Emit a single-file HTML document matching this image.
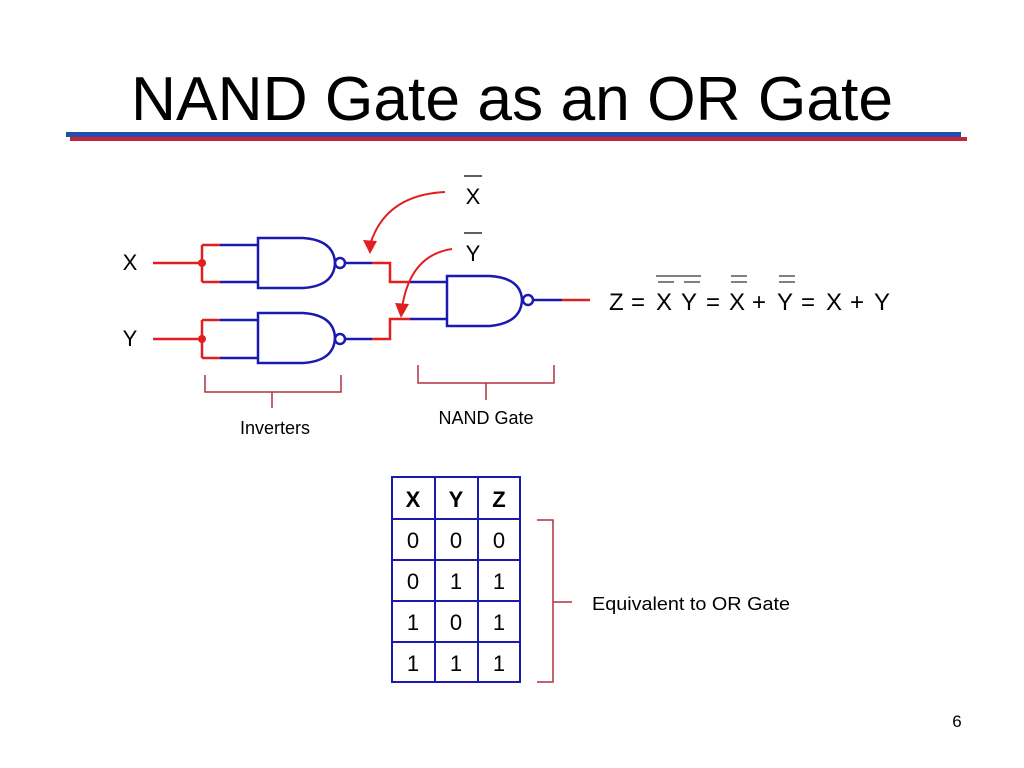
<!DOCTYPE html>
<html><head><meta charset="utf-8"><style>
html,body{margin:0;padding:0;background:#fff}
svg{display:block}
text{font-family:"Liberation Sans",Arial,sans-serif;fill:#000}
</style></head><body>
<svg width="1024" height="768" viewBox="0 0 1024 768" xmlns="http://www.w3.org/2000/svg">
<text x="512" y="120" font-size="62" text-anchor="middle" textLength="762" lengthAdjust="spacingAndGlyphs">NAND Gate as an OR Gate</text>
<rect x="66" y="132" width="895" height="5" fill="#1f4fa8"/>
<rect x="70" y="137" width="897" height="4" fill="#c0283a"/>

<g fill="none" stroke-width="2.5">
<path d="M153 263H202M202 245V282M202 245H220M202 282H220" stroke="#e02020"/>
<path d="M220 245H258M220 282H258" stroke="#1a1ab0"/>
<path d="M258 238H303Q334 240 335 263Q334 286 303 288H258Z" stroke="#1a1ab0"/>
<circle cx="340" cy="263" r="5" stroke="#1a1ab0"/>
<path d="M345 263H372" stroke="#1a1ab0"/>
<path d="M372 263H390V282H410" stroke="#e02020"/>
<path d="M410 282H447" stroke="#1a1ab0"/>
<path d="M153 339H202M202 320V358M202 320H220M202 358H220" stroke="#e02020"/>
<path d="M220 320H258M220 358H258" stroke="#1a1ab0"/>
<path d="M258 313H303Q334 315 335 338Q334 361 303 363H258Z" stroke="#1a1ab0"/>
<circle cx="340" cy="339" r="5" stroke="#1a1ab0"/>
<path d="M345 339H372" stroke="#1a1ab0"/>
<path d="M372 339H390V319H410" stroke="#e02020"/>
<path d="M410 319H447" stroke="#1a1ab0"/>
<path d="M447 276H490Q521 278 522 300Q521 323 490 326H447Z" stroke="#1a1ab0"/>
<circle cx="528" cy="300" r="5" stroke="#1a1ab0"/>
<path d="M533 300H562" stroke="#1a1ab0"/>
<path d="M562 300H590" stroke="#e02020"/>
<path d="M445 192Q385 195 370 245" stroke="#e02020" stroke-width="2"/>
<path d="M452 249Q410 255 402 308" stroke="#e02020" stroke-width="2"/>
<path d="M205 375V392H272V408M272 392H341V375" stroke="#b03040" stroke-width="1.5"/>
<path d="M418 365V383H486V400M486 383H554V365" stroke="#b03040" stroke-width="1.5"/>
<path d="M537 520H553V602H572M553 602V682H537" stroke="#b03040" stroke-width="1.5"/>
</g>
<circle cx="202" cy="263" r="4" fill="#e02020"/>
<circle cx="202" cy="339" r="4" fill="#e02020"/>
<path d="M363 240L370 254L377 241Z" fill="#e02020"/>
<path d="M395 303L401 318L409 304Z" fill="#e02020"/>

<text x="130" y="270" font-size="22" text-anchor="middle">X</text>
<text x="130" y="346" font-size="22" text-anchor="middle">Y</text>
<text x="473" y="204" font-size="22" text-anchor="middle">X</text>
<line x1="464" y1="176" x2="482" y2="176" stroke="#000" stroke-width="1.3"/>
<text x="473" y="261" font-size="22" text-anchor="middle">Y</text>
<line x1="464" y1="233" x2="482" y2="233" stroke="#000" stroke-width="1.3"/>

<text x="275" y="434" font-size="18" text-anchor="middle">Inverters</text>
<text x="486" y="424" font-size="18" text-anchor="middle">NAND Gate</text>

<g font-size="24">
<text x="609" y="310">Z</text>
<text x="631" y="310">=</text>
<text x="656" y="310">X</text>
<text x="681" y="310">Y</text>
<text x="706" y="310">=</text>
<text x="729" y="310">X</text>
<text x="752" y="310">+</text>
<text x="777" y="310">Y</text>
<text x="801" y="310">=</text>
<text x="826" y="310">X</text>
<text x="850" y="310">+</text>
<text x="874" y="310">Y</text>
</g>
<g stroke="#000" stroke-width="1">
<line x1="656" y1="276" x2="701" y2="276"/>
<line x1="658" y1="282" x2="674" y2="282"/>
<line x1="684" y1="282" x2="700" y2="282"/>
<line x1="731" y1="276" x2="747" y2="276"/>
<line x1="731" y1="282" x2="747" y2="282"/>
<line x1="779" y1="276" x2="795" y2="276"/>
<line x1="779" y1="282" x2="795" y2="282"/>
</g>

<g stroke="#1a1ab0" stroke-width="2" fill="none">
<rect x="392" y="477" width="128" height="205"/>
<path d="M435 477V682M478 477V682M392 519H520M392 560H520M392 601H520M392 642H520"/>
</g>
<g font-size="22" text-anchor="middle">
<text x="413" y="507" font-weight="bold">X</text><text x="456" y="507" font-weight="bold">Y</text><text x="499" y="507" font-weight="bold">Z</text>
<text x="413" y="548">0</text><text x="456" y="548">0</text><text x="499" y="548">0</text>
<text x="413" y="589">0</text><text x="456" y="589">1</text><text x="499" y="589">1</text>
<text x="413" y="630">1</text><text x="456" y="630">0</text><text x="499" y="630">1</text>
<text x="413" y="671">1</text><text x="456" y="671">1</text><text x="499" y="671">1</text>
</g>
<text x="592" y="610" font-size="18" textLength="198" lengthAdjust="spacingAndGlyphs">Equivalent to OR Gate</text>
<text x="957" y="727" font-size="17" text-anchor="middle">6</text>
</svg>
</body></html>
